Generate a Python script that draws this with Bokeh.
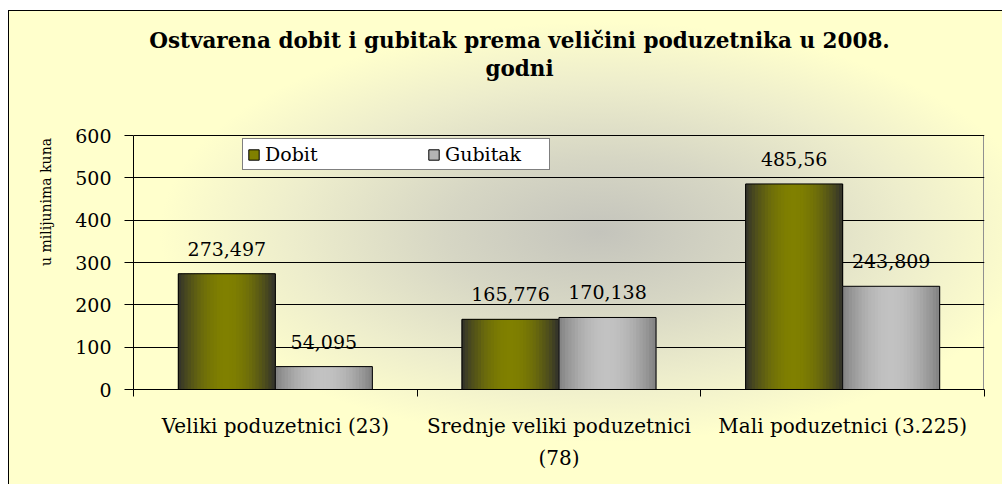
import math
from bokeh.plotting import figure
from bokeh.models import (ColumnDataSource, FactorRange, Range1d, LinearAxis, FixedTicker,
                          Legend, LegendItem, Label)
from bokeh.transform import dodge
from bokeh.core.properties import value
from bokeh.embed import file_html
from bokeh.resources import INLINE

# ---------------- data ----------------
categories = ["Veliki poduzetnici (23)", "Srednje veliki poduzetnici\n(78)", "Mali poduzetnici (3.225)"]
series = ["Dobit", "Gubitak"]
dobit = [273.497, 165.776, 485.56]
gubitak = [54.095, 170.138, 243.809]
dobit_labels = ["273,497", "165,776", "485,56"]
gubitak_labels = ["54,095", "170,138", "243,809"]
y_ticks = [0, 100, 200, 300, 400, 500, 600]
title_text = "Ostvarena dobit i gubitak prema veličini poduzetnika u 2008.\ngodni"
y_label = "u milijunima kuna"

# ---------------- style ----------------
FONT = "DejaVu Serif"
W, H = 1002, 484
BORDER_TOP, BORDER_BOTTOM = 14, 95
GRID_TOP_PX = 135                      # pixel row of the 600 gridline
FRAME_H = H - BORDER_TOP - BORDER_BOTTOM
GRID_H = H - BORDER_BOTTOM - GRID_TOP_PX
Y_MAX = y_ticks[-1]
Y_END = Y_MAX * FRAME_H / GRID_H       # frame extends above the axis so the title fits inside
BAR_W = 0.342
N_STRIPES = 30
edge_cols = {"Dobit": (48, 48, 44), "Gubitak": (128, 128, 128)}
mid_cols = {"Dobit": (128, 128, 0), "Gubitak": (194, 194, 194)}
mid_hex = {"Dobit": "#808000", "Gubitak": "#b4b4b4"}

src = ColumnDataSource(dict(cat=categories, Dobit=dobit, Gubitak=gubitak,
                            Dobit_lbl=dobit_labels, Gubitak_lbl=gubitak_labels))

p = figure(x_range=FactorRange(*categories), y_range=Range1d(0, Y_END),
           width=W, height=H, output_backend="svg", toolbar_location=None,
           min_border_left=133, min_border_right=18,
           min_border_top=BORDER_TOP, min_border_bottom=BORDER_BOTTOM)

p.background_fill_color = None
p.border_fill_color = None
p.outline_line_color = None
p.styles = {
    "background": (
        "linear-gradient(#ffffff,#ffffff) 0 0/100% 10px no-repeat, "
        "linear-gradient(#ffffff,#ffffff) 0 0/8px 100% no-repeat, "
        "linear-gradient(#000000,#000000) 8px 10px/100% 1px no-repeat, "
        "linear-gradient(#000000,#000000) 8px 10px/1px 100% no-repeat, "
        "linear-gradient(#909090,#909090) 983px 135px/1px 254px no-repeat, "
        "radial-gradient(ellipse 440px 210px at 600px 232px, #c4c4bc 0%, #d6d6c4 35%, #ededcc 70%, #ffffcc 100%)"
    )
}

# y axis
yax = p.yaxis[0]
yax.ticker = FixedTicker(ticks=y_ticks)
yax.bounds = (0, Y_MAX)
yax.major_tick_out = 9
yax.major_tick_in = 0
yax.minor_tick_line_color = None
yax.axis_line_color = "black"
yax.major_tick_line_color = "black"
yax.major_label_text_font = FONT
yax.major_label_text_font_size = "19px"
yax.major_label_text_color = "black"
yax.major_label_standoff = 13
yax.axis_label = y_label
yax.axis_label_text_font = FONT
yax.axis_label_text_font_size = "14px"
yax.axis_label_text_font_style = "normal"
yax.axis_label_text_color = "black"
yax.axis_label_standoff = 18

p.ygrid.grid_line_color = "black"
p.ygrid.grid_line_width = 1
p.xgrid.grid_line_color = None

# x axes: boundary ticks (between categories) + category labels
cat_axis = p.below[0]
slot_axis = LinearAxis(ticker=FixedTicker(ticks=list(range(len(categories) + 1))),
                       major_tick_out=7, major_tick_in=0, minor_tick_line_color=None,
                       major_label_text_font_size="1px", major_label_text_color=None,
                       major_label_standoff=0,
                       axis_line_color="black", major_tick_line_color="black")
p.add_layout(slot_axis, "below")
p.below = [slot_axis, cat_axis]

cat_axis.axis_line_color = None
cat_axis.major_tick_line_color = None
cat_axis.major_label_text_font = FONT
cat_axis.major_label_text_font_size = "20px"
cat_axis.major_label_text_color = "black"
cat_axis.major_label_standoff = 11
cat_axis.major_label_text_line_height = 1.37

# bars with horizontal gradient (stripes)
legend_items = []
for k, name in enumerate(series):
    center = (k - 0.5) * BAR_W
    base = p.vbar(x=dodge("cat", center, range=p.x_range), top=name, width=BAR_W,
                  source=src, fill_color=mid_hex[name], line_color=None)
    e = edge_cols[name]
    m = mid_cols[name]
    sw = BAR_W / N_STRIPES
    for i in range(N_STRIPES):
        pos = (i + 0.5) / N_STRIPES
        t = math.sin(math.pi * pos) ** 0.9
        col = "#%02x%02x%02x" % tuple(int(round(e[j] + (m[j] - e[j]) * t)) for j in range(3))
        off = center - BAR_W / 2 + (i + 0.5) * sw
        p.vbar(x=dodge("cat", off, range=p.x_range), top=name, width=sw * 1.25,
               source=src, fill_color=col, line_color=None)
    outline = p.vbar(x=dodge("cat", center, range=p.x_range), top=name, width=BAR_W,
                     source=src, fill_color=None, line_color="black", line_width=1)
    p.text(x=dodge("cat", center, range=p.x_range), y=name, text=name + "_lbl", source=src,
           text_align="center", text_baseline="alphabetic", y_offset=-25,
           text_font=value(FONT), text_font_size="19px", text_color="black")
    legend_items.append(LegendItem(label=name, renderers=[base, outline]))

legend = Legend(items=legend_items, orientation="horizontal", location=(109, 219),
                padding=4, spacing=62, label_width=100, label_standoff=5,
                glyph_width=13, glyph_height=13,
                label_text_font=FONT, label_text_font_size="19px", label_text_color="black",
                border_line_color="black", border_line_width=1,
                background_fill_color="white", background_fill_alpha=1.0, margin=0)
p.add_layout(legend)

title = Label(x=386, y=362, x_units="screen", y_units="screen", text=title_text,
              text_align="center", text_baseline="top", text_font=FONT,
              text_font_size="21.5px", text_font_style="bold", text_color="black",
              text_line_height=1.12)
p.add_layout(title)

open("out.html", "w").write(file_html(p, INLINE))
